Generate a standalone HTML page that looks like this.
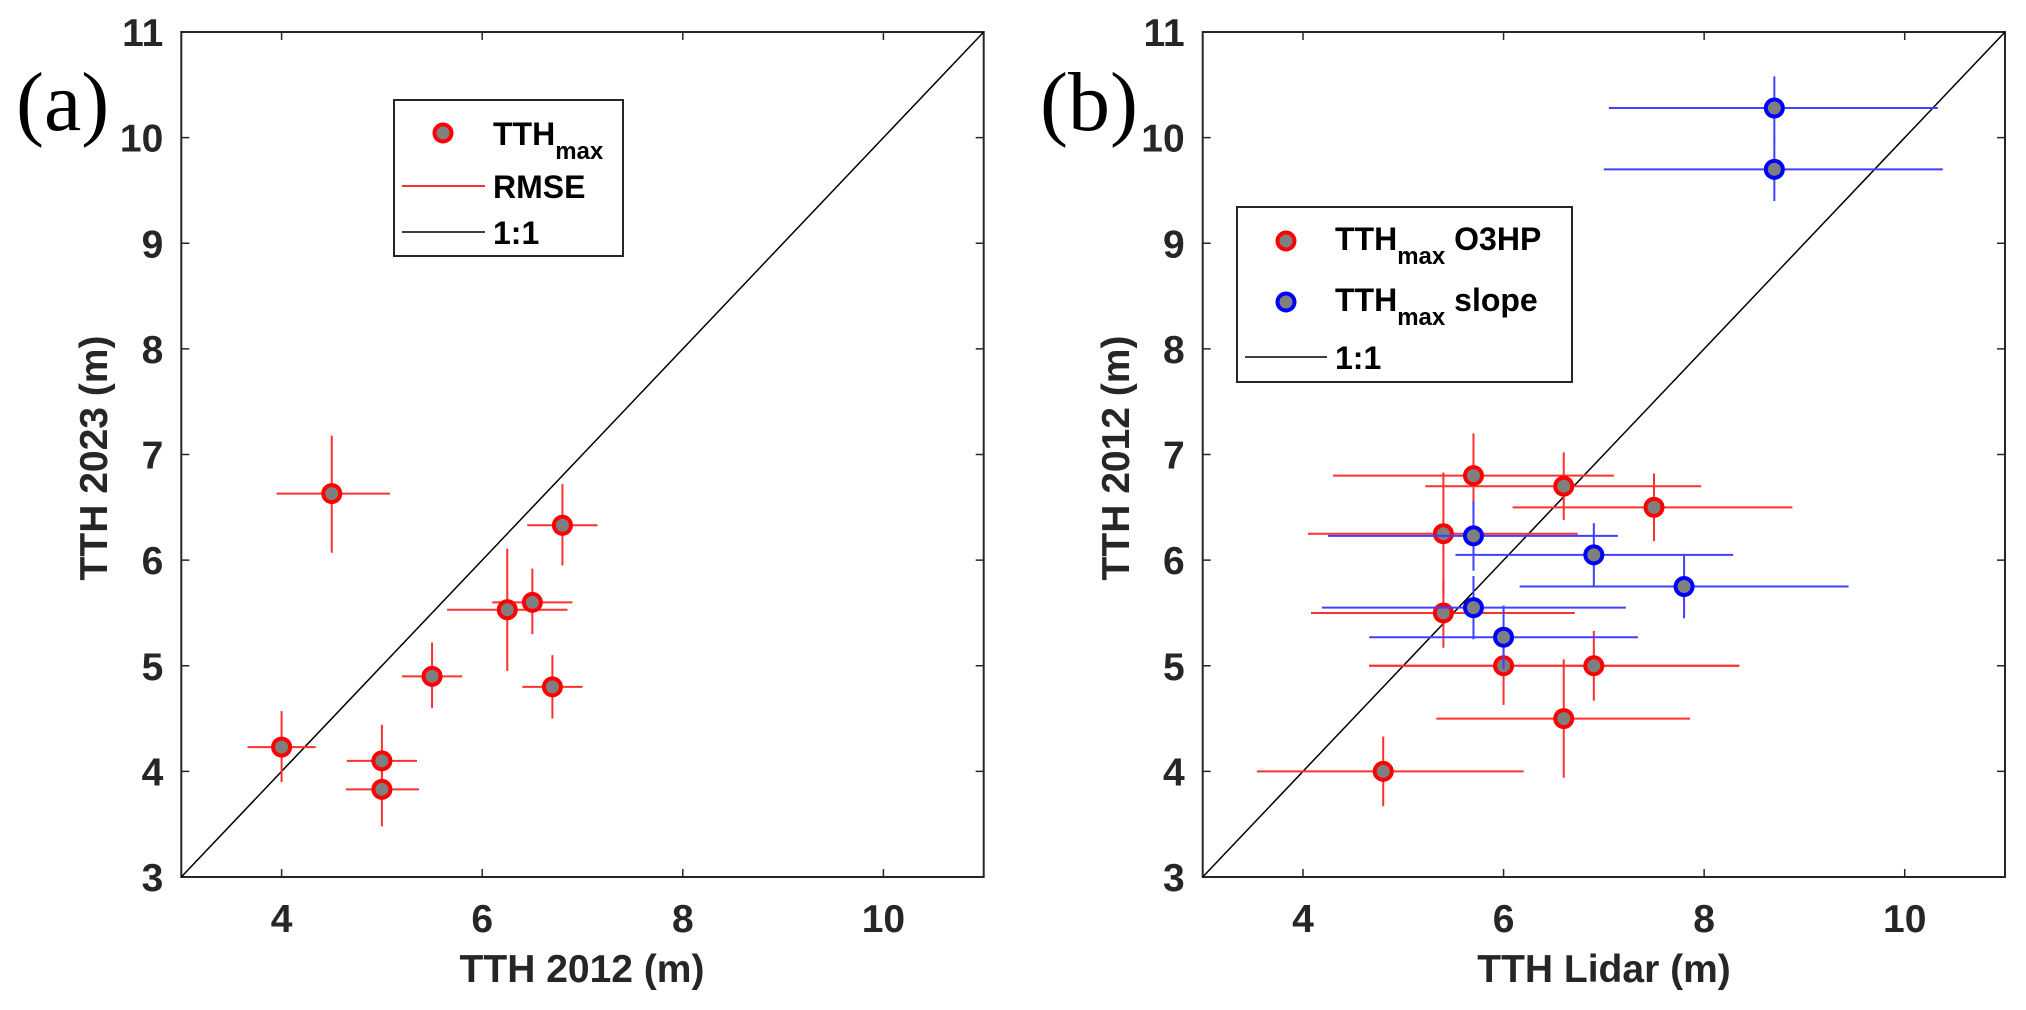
<!DOCTYPE html>
<html><head><meta charset="utf-8"><style>
html,body{margin:0;padding:0;background:#fff;}
svg{display:block;font-family:"Liberation Sans",Arial,sans-serif;}
.tk{font-size:39px;font-weight:bold;fill:#262626;}
.ttl{font-size:39px;font-weight:bold;fill:#262626;}
.lg{font-size:32px;font-weight:bold;fill:#000;}
</style></head><body>
<svg id="fig" width="2026" height="1010" viewBox="0 0 2026 1010" xmlns="http://www.w3.org/2000/svg"></svg>
<script>
// Panel (a) data
const aX=[4.5,4.0,5.0,5.0,5.5,6.25,6.5,6.7,6.8];
const aY=[6.63,4.23,4.1,3.83,4.9,5.53,5.6,4.8,6.33];
const aXlo=[3.95,3.66,4.65,4.64,5.2,5.65,6.1,6.4,6.45];
const aXhi=[5.08,4.34,5.35,5.37,5.8,6.85,6.9,7.0,7.15];
const aYlo=[6.07,3.9,3.77,3.48,4.6,4.95,5.3,4.5,5.95];
const aYhi=[7.18,4.57,4.44,4.18,5.22,6.11,5.92,5.1,6.72];
// Panel (b) red (O3HP)
const rX=[4.8,5.7,6.6,7.5,5.4,5.4,6.0,6.9,6.6];
const rY=[4.0,6.8,6.7,6.5,6.25,5.5,5.0,5.0,4.5];
const rXlo=[3.54,4.3,5.22,6.09,4.05,4.08,4.66,4.66,5.33];
const rXhi=[6.2,7.1,7.97,8.88,6.74,6.71,8.35,8.35,7.86];
const rYlo=[3.67,6.4,6.38,6.18,5.67,5.17,4.63,4.67,3.94];
const rYhi=[4.33,7.2,7.02,6.82,6.83,5.83,5.37,5.33,5.06];
// Panel (b) blue (slope)
const bX=[8.7,8.7,5.7,6.9,7.8,5.7,6.0];
const bY=[10.28,9.7,6.23,6.05,5.75,5.55,5.27];
const bXlo=[7.05,7.0,4.25,5.52,6.16,4.19,4.66];
const bXhi=[10.33,10.38,7.14,8.29,9.44,7.22,7.34];
const bYlo=[9.98,9.4,5.9,5.75,5.45,5.25,4.97];
const bYhi=[10.58,10.0,6.56,6.35,6.05,5.85,5.57];
const xTicks=[4,6,8,10];
const yTicks=[3,4,5,6,7,8,9,10,11];

const NS="http://www.w3.org/2000/svg";
const svg=document.getElementById('fig');
function mk(tag,attrs,parent,text){const e=document.createElementNS(NS,tag);for(const k in attrs)e.setAttribute(k,attrs[k]);if(text!==undefined)e.textContent=text;(parent||svg).appendChild(e);return e;}

function panel(left,right,top,bottom,name){
  const sx=v=>left+(v-3)/8*(right-left);
  const sy=v=>bottom-(v-3)/8*(bottom-top);
  const g=mk('g',{});
  
  
  const box=mk('rect',{x:left,y:top,width:right-left,height:bottom-top,fill:'none',stroke:'#262626','stroke-width':2},g);
  
  
  xTicks.forEach(t=>{
    mk('line',{x1:sx(t),x2:sx(t),y1:bottom,y2:bottom-8,stroke:'#262626','stroke-width':1.5},g);
    mk('line',{x1:sx(t),x2:sx(t),y1:top,y2:top+8,stroke:'#262626','stroke-width':1.5},g);
    const l=mk('text',{x:sx(t),y:932,'text-anchor':'middle',class:'tk'},g,String(t));
    
    
  });
  yTicks.forEach(t=>{
    mk('line',{x1:left,x2:left+8,y1:sy(t),y2:sy(t),stroke:'#262626','stroke-width':1.5},g);
    mk('line',{x1:right,x2:right-8,y1:sy(t),y2:sy(t),stroke:'#262626','stroke-width':1.5},g);
    const l=mk('text',{x:left-18,y:sy(t)+14,'text-anchor':'end',class:'tk'},g,String(t));
    
    
  });
  const d=mk('line',{x1:sx(3),y1:sy(3),x2:sx(11),y2:sy(11),stroke:'#000','stroke-width':1.5},g);
  
  
  return {sx,sy,g};
}
function series(p,X,Y,Xlo,Xhi,Ylo,Yhi,ecol,mcol,nm){
  for(let i=0;i<X.length;i++){
    const h=mk('line',{x1:p.sx(Xlo[i]),x2:p.sx(Xhi[i]),y1:p.sy(Y[i]),y2:p.sy(Y[i]),stroke:ecol,'stroke-width':2},p.g);
    
    
    const v=mk('line',{x1:p.sx(X[i]),x2:p.sx(X[i]),y1:p.sy(Ylo[i]),y2:p.sy(Yhi[i]),stroke:ecol,'stroke-width':2},p.g);
    
    
  }
  for(let i=0;i<X.length;i++){
    const c=mk('circle',{cx:p.sx(X[i]),cy:p.sy(Y[i]),r:8.5,fill:'#7f7f7f',stroke:mcol,'stroke-width':4},p.g);
    
    
  }
}
const pa=panel(181.3,983.7,32,877,'panel-a');
series(pa,aX,aY,aXlo,aXhi,aYlo,aYhi,'#ff3030','#ff0000','tth-max');
const pb=panel(1202.7,2005,32,877,'panel-b');
series(pb,rX,rY,rXlo,rXhi,rYlo,rYhi,'#ff3030','#ff0000','o3hp');
series(pb,bX,bY,bXlo,bXhi,bYlo,bYhi,'#4040ff','#0000ff','slope');
</script>
<svg width="2026" height="1010" style="position:absolute;left:0;top:0" xmlns="http://www.w3.org/2000/svg">
  <text x="16" y="130" font-family="Liberation Serif,serif" font-size="84">(a)</text>
  <text x="1040" y="130" font-family="Liberation Serif,serif" font-size="84">(b)</text>
  <text class="ttl" x="582" y="982" text-anchor="middle">TTH 2012 (m)</text>
  <text class="ttl" x="1604" y="982" text-anchor="middle">TTH Lidar (m)</text>
  <text class="ttl" transform="translate(107,458) rotate(-90)" text-anchor="middle">TTH 2023 (m)</text>
  <text class="ttl" transform="translate(1129,458) rotate(-90)" text-anchor="middle">TTH 2012 (m)</text>
  <g>
    <rect x="394" y="100" width="229" height="156" fill="#fff" stroke="#262626" stroke-width="2"/>
    <circle cx="443" cy="133" r="8.5" fill="#7f7f7f" stroke="#ff0000" stroke-width="4"/>
    <text class="lg" x="493" y="145">TTH<tspan font-size="24" dy="14">max</tspan></text>
    <line x1="402" x2="485" y1="186" y2="186" stroke="#ff3030" stroke-width="2"/>
    <text class="lg" x="493" y="198">RMSE</text>
    <line x1="402" x2="485" y1="232" y2="232" stroke="#000" stroke-width="1.5"/>
    <text class="lg" x="493" y="244">1:1</text>
  </g>
  <g>
    <rect x="1237" y="207" width="335" height="175" fill="#fff" stroke="#262626" stroke-width="2"/>
    <circle cx="1286" cy="241" r="8.5" fill="#7f7f7f" stroke="#ff0000" stroke-width="4"/>
    <text class="lg" x="1335" y="250">TTH<tspan font-size="24" dy="14">max</tspan><tspan dy="-14"> O3HP</tspan></text>
    <circle cx="1286" cy="302" r="8.5" fill="#7f7f7f" stroke="#0000ff" stroke-width="4"/>
    <text class="lg" x="1335" y="311">TTH<tspan font-size="24" dy="14">max</tspan><tspan dy="-14"> slope</tspan></text>
    <line x1="1245" x2="1327" y1="357" y2="357" stroke="#000" stroke-width="1.5"/>
    <text class="lg" x="1335" y="369">1:1</text>
  </g>
</svg>
</body></html>
